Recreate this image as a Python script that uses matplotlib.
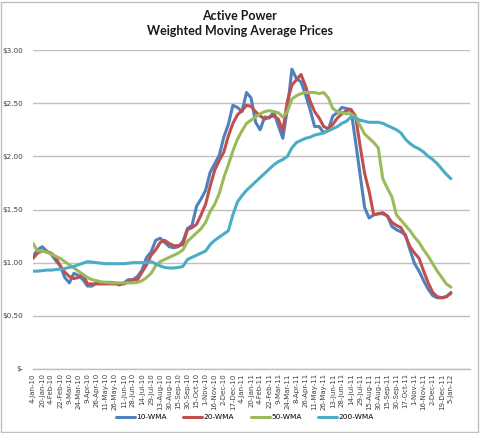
import numpy as np
import matplotlib
matplotlib.use("Agg")
import matplotlib.pyplot as plt
from matplotlib.patches import Rectangle

tick_labels = ["4-Jan-10", "20-Jan-10", "4-Feb-10", "22-Feb-10", "9-Mar-10", "24-Mar-10",
               "9-Apr-10", "26-Apr-10", "11-May-10", "26-May-10", "11-Jun-10", "28-Jun-10",
               "14-Jul-10", "29-Jul-10", "13-Aug-10", "30-Aug-10", "15-Sep-10", "30-Sep-10",
               "15-Oct-10", "1-Nov-10", "16-Nov-10", "2-Dec-10", "17-Dec-10", "4-Jan-11",
               "20-Jan-11", "4-Feb-11", "22-Feb-11", "9-Mar-11", "24-Mar-11", "8-Apr-11",
               "26-Apr-11", "11-May-11", "26-May-11", "13-Jun-11", "28-Jun-11", "14-Jul-11",
               "29-Jul-11", "15-Aug-11", "30-Aug-11", "15-Sep-11", "30-Sep-11", "17-Oct-11",
               "1-Nov-11", "16-Nov-11", "2-Dec-11", "19-Dec-11", "5-Jan-12"]

# values sampled twice per tick interval (every ~5.5 trading days)
wma10 = [1.06, 1.12, 1.15, 1.11, 1.08, 1.02, 0.97, 0.86, 0.81, 0.90,
         0.88, 0.84, 0.78, 0.78, 0.81, 0.81, 0.815, 0.815, 0.81, 0.79,
         0.81, 0.84, 0.84, 0.87, 0.93, 1.05, 1.10, 1.21, 1.23, 1.19,
         1.15, 1.14, 1.15, 1.20, 1.32, 1.35, 1.53, 1.60, 1.68, 1.85,
         1.93, 2.01, 2.18, 2.30, 2.48, 2.46, 2.42, 2.60, 2.55, 2.32,
         2.25, 2.37, 2.36, 2.42, 2.29, 2.17, 2.45, 2.82, 2.73, 2.70,
         2.58, 2.44, 2.28, 2.28, 2.22, 2.25, 2.38, 2.41, 2.46, 2.45,
         2.44, 2.14, 1.83, 1.52, 1.42, 1.45, 1.46, 1.46, 1.44, 1.34,
         1.31, 1.29, 1.26, 1.12, 0.99, 0.92, 0.83, 0.75, 0.69, 0.67,
         0.67, 0.68, 0.72]

wma20 = [1.04, 1.09, 1.11, 1.10, 1.09, 1.05, 0.97, 0.91, 0.87, 0.85,
         0.86, 0.89, 0.80, 0.80, 0.80, 0.80, 0.80, 0.80, 0.80, 0.80,
         0.80, 0.82, 0.84, 0.84, 0.91, 0.98, 1.07, 1.12, 1.19, 1.21,
         1.18, 1.16, 1.16, 1.17, 1.31, 1.33, 1.36, 1.45, 1.55, 1.72,
         1.87, 1.96, 2.04, 2.19, 2.31, 2.39, 2.43, 2.48, 2.47, 2.42,
         2.38, 2.35, 2.37, 2.38, 2.35, 2.24, 2.52, 2.67, 2.72, 2.77,
         2.66, 2.52, 2.42, 2.36, 2.28, 2.26, 2.30, 2.36, 2.40, 2.43,
         2.44, 2.38, 2.10, 1.84, 1.67, 1.45, 1.46, 1.47, 1.44, 1.38,
         1.35, 1.33, 1.25, 1.15, 1.09, 1.04, 0.92, 0.81, 0.72, 0.68,
         0.67, 0.68, 0.71]

wma50 = [1.18, 1.11, 1.11, 1.10, 1.08, 1.06, 1.04, 1.01, 0.98, 0.95,
         0.92, 0.89, 0.86, 0.84, 0.83, 0.82, 0.815, 0.81, 0.81, 0.81,
         0.81, 0.81, 0.81, 0.815, 0.83, 0.86, 0.90, 0.97, 1.01, 1.03,
         1.05, 1.07, 1.09, 1.12, 1.20, 1.24, 1.28, 1.32, 1.38, 1.48,
         1.55, 1.65, 1.80, 1.92, 2.05, 2.16, 2.24, 2.31, 2.34, 2.37,
         2.40, 2.42, 2.43, 2.42, 2.41, 2.37, 2.42, 2.54, 2.57, 2.59,
         2.60, 2.60, 2.60, 2.59, 2.60, 2.55, 2.45, 2.42, 2.41, 2.40,
         2.40, 2.37, 2.29, 2.21, 2.17, 2.13, 2.08, 1.79, 1.70, 1.62,
         1.45, 1.40, 1.35, 1.30, 1.24, 1.19, 1.12, 1.06, 0.99, 0.92,
         0.86, 0.80, 0.77]

wma200 = [0.92, 0.92, 0.925, 0.93, 0.93, 0.935, 0.94, 0.945, 0.955, 0.965,
          0.98, 0.995, 1.01, 1.005, 1.00, 0.995, 0.99, 0.99, 0.99, 0.99,
          0.99, 0.995, 1.00, 1.00, 1.00, 1.00, 1.01, 0.99, 0.97, 0.955,
          0.95, 0.95, 0.955, 0.965, 1.03, 1.05, 1.07, 1.09, 1.11, 1.17,
          1.21, 1.24, 1.27, 1.30, 1.45, 1.57, 1.63, 1.68, 1.72, 1.76,
          1.80, 1.84, 1.88, 1.92, 1.95, 1.97, 2.00, 2.08, 2.13, 2.15,
          2.17, 2.18, 2.20, 2.21, 2.22, 2.24, 2.26, 2.28, 2.31, 2.33,
          2.37, 2.36, 2.34, 2.33, 2.32, 2.32, 2.32, 2.31, 2.29, 2.27,
          2.25, 2.22, 2.16, 2.12, 2.09, 2.07, 2.04, 2.00, 1.97, 1.93,
          1.88, 1.83, 1.79]

series = [("10-WMA", wma10, "#4F81BD"),
          ("20-WMA", wma20, "#C0504D"),
          ("50-WMA", wma50, "#9BBB59"),
          ("200-WMA", wma200, "#4BACC6")]

W, H = 480, 433
fig = plt.figure(figsize=(W / 100, H / 100), dpi=100)
fig.patch.set_facecolor("white")
fig.add_artist(Rectangle((1 / W, 1 / H), 1 - 3 / W, 1 - 3 / H, transform=fig.transFigure,
                         fill=False, edgecolor="#BFBFBF", linewidth=1.0))

left, right = 33 / W, 470 / W
bottom, top = (H - 369) / H, (H - 50) / H
ax = fig.add_axes([left, bottom, right - left, top - bottom])

x = np.arange(len(wma10)) * 0.5
for name, vals, col in series:
    ax.plot(x, vals, color=col, linewidth=2.2, label=name, solid_capstyle="round",
            solid_joinstyle="round")

ax.set_xlim(0, 48.1)
ax.set_ylim(0, 3.0)
yt = [0, 0.5, 1.0, 1.5, 2.0, 2.5, 3.0]
ax.set_yticks(yt)
ax.set_yticklabels(["$-" if v == 0 else f"${v:.2f}" for v in yt],
                   fontsize=5.2, color="#404040")
ax.tick_params(axis="y", length=0, pad=7)
ax.set_xticks(np.arange(len(tick_labels)))
ax.set_xticklabels(tick_labels, rotation=90, fontsize=5.0, color="#404040")
ax.tick_params(axis="x", length=0, pad=3)
ax.grid(axis="y", color="#C0C0C0", linewidth=1.0)
ax.set_axisbelow(True)
for s in ["left", "right", "top"]:
    ax.spines[s].set_visible(False)
ax.spines["bottom"].set_color("#C0C0C0")
ax.spines["bottom"].set_linewidth(1.0)

fig.text(0.5, (H - 16) / H, "Active Power", ha="center", va="center",
         fontsize=9, fontweight="bold", family="Lato", color="#1a1a1a")
fig.text(0.5, (H - 31) / H, "Weighted Moving Average Prices", ha="center", va="center",
         fontsize=9, fontweight="bold", family="Lato", color="#1a1a1a")

leg = fig.legend(loc="center", bbox_to_anchor=(0.51, (H - 417) / H), ncol=4, frameon=False,
                 fontsize=5.3, handlelength=2.6, handletextpad=0.2, columnspacing=2.2)
for line in leg.get_lines():
    line.set_linewidth(2.2)

fig.savefig("out.png", dpi=100)
